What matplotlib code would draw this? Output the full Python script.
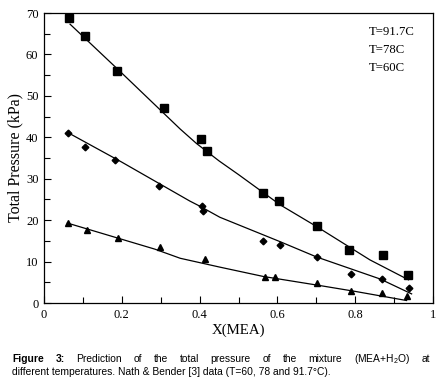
import matplotlib
matplotlib.use("Agg")
import matplotlib.pyplot as plt
from matplotlib.ticker import MultipleLocator

# ---- data ----
x_917 = [0.065, 0.106, 0.188, 0.309, 0.404, 0.418, 0.564, 0.605, 0.701, 0.785, 0.871, 0.937]
y_917 = [68.9, 64.5, 56.1, 47.1, 39.7, 36.7, 26.6, 24.7, 18.6, 12.7, 11.5, 6.7]

x_78 = [0.061, 0.106, 0.183, 0.296, 0.405, 0.409, 0.564, 0.607, 0.702, 0.790, 0.868, 0.939]
y_78 = [41.0, 37.7, 34.4, 28.3, 23.4, 22.1, 15.0, 14.1, 11.2, 7.1, 5.9, 3.6]

x_60 = [0.061, 0.111, 0.190, 0.299, 0.414, 0.568, 0.594, 0.701, 0.788, 0.870, 0.932]
y_60 = [19.2, 17.7, 15.6, 13.4, 10.6, 6.3, 6.3, 4.9, 2.9, 2.5, 1.6]

# model curves
mx_917 = [0.067, 0.20, 0.35, 0.392, 0.45, 0.50, 0.607, 0.70, 0.838, 0.937]
my_917 = [67.3, 55.5, 42.0, 38.5, 34.3, 31.0, 23.7, 18.5, 10.4, 5.6]

mx_78 = [0.060, 0.20, 0.375, 0.40, 0.452, 0.607, 0.701, 0.864, 0.945]
my_78 = [41.2, 34.0, 24.6, 23.4, 20.7, 14.8, 11.1, 5.8, 2.2]

mx_60 = [0.060, 0.285, 0.35, 0.45, 0.564, 0.71, 0.80, 0.932]
my_60 = [19.3, 13.0, 10.8, 8.7, 6.4, 4.2, 2.8, 0.6]

legend_labels = ["T=91.7C", "T=78C", "T=60C"]
xtick_labels = ["0", "0.2", "0.4", "0.6", "0.8", "1"]

caption_line1 = ["Figure", "3:", "Prediction", "of", "the", "total", "pressure", "of",
                 "the", "mixture", "(MEA+H$_2$O)", "at"]
caption_line2 = "different temperatures. Nath & Bender [3] data (T=60, 78 and 91.7°C)."

serif = ["Liberation Serif", "DejaVu Serif"]
sans = ["Liberation Sans", "DejaVu Sans"]
plt.rcParams["mathtext.fontset"] = "custom"
plt.rcParams["mathtext.rm"] = "Liberation Sans"
plt.rcParams["mathtext.it"] = "Liberation Sans:italic"
plt.rcParams["mathtext.bf"] = "Liberation Sans:bold"

W, H = 444, 388
fig = plt.figure(figsize=(W/100, H/100), dpi=100)
ax = fig.add_axes([44/W, 1-303/H, (433-44)/W, (303-13)/H])

lw = 0.9
ax.plot(mx_917, my_917, color="black", lw=lw)
ax.plot(mx_78, my_78, color="black", lw=lw)
ax.plot(mx_60, my_60, color="black", lw=lw)
ax.plot(x_917, y_917, ls="none", marker="s", ms=5.2, color="black")
ax.plot(x_78, y_78, ls="none", marker="D", ms=3.4, color="black")
ax.plot(x_60, y_60, ls="none", marker="^", ms=3.8, color="black")

ax.set_xlim(0, 1)
ax.set_ylim(0, 70)
ax.xaxis.set_minor_locator(MultipleLocator(0.1))
ax.yaxis.set_major_locator(MultipleLocator(10))
ax.yaxis.set_minor_locator(MultipleLocator(5))
ax.set_xticks([0, 0.2, 0.4, 0.6, 0.8, 1.0])
ax.set_xticklabels(xtick_labels)
ax.tick_params(which="both", direction="in", top=False, right=False,
               width=0.8, labelsize=9)
ax.tick_params(which="major", length=5, pad=4)
ax.tick_params(which="minor", length=4)
for lab in ax.get_xticklabels() + ax.get_yticklabels():
    lab.set_family(serif)
for sp in ax.spines.values():
    sp.set_linewidth(0.9)

ax.set_xlabel("X(MEA)", family=serif, fontsize=10.7, labelpad=2)
ax.set_ylabel("Total Pressure (kPa)", family=serif, fontsize=11.5, labelpad=2)

for i, t in enumerate(legend_labels):
    ax.text(0.835, 0.935 - i*0.062, t, transform=ax.transAxes, family=serif,
            fontsize=9.2, va="center", ha="left")

# caption: first line justified between x=12 and x=430 px
cap_fs = 7.4
renderer = fig.canvas.get_renderer()
x_left, x_right = 12, 430
y1 = 1 - 359/H
texts = []
for i, w in enumerate(caption_line1):
    t = fig.text(0, y1, w, family=sans, fontsize=cap_fs, va="center", ha="left",
                 weight="bold" if i < 2 else "normal")
    texts.append(t)
widths = [t.get_window_extent(renderer).width for t in texts]
gap = (x_right - x_left - sum(widths)) / (len(texts) - 1)
xpos = x_left
for t, wd in zip(texts, widths):
    t.set_x(xpos / W)
    xpos += wd + gap

fig.text(x_left/W, 1-372/H, caption_line2, family=sans, fontsize=cap_fs,
         va="center", ha="left")

fig.savefig("out.png", dpi=100)
